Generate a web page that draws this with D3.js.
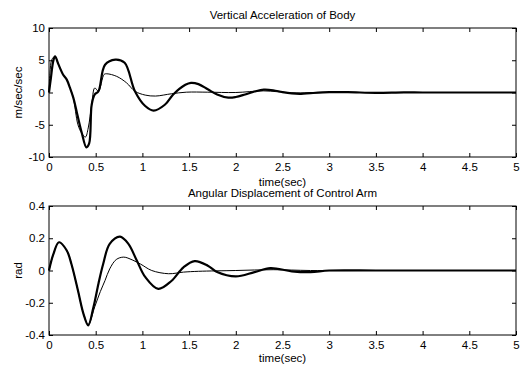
<!DOCTYPE html>
<html><head><meta charset="utf-8">
<script src="https://cdn.jsdelivr.net/npm/d3@7"></script>
<style>
html,body{margin:0;padding:0;background:#fff;}
svg{display:block;font-family:"Liberation Sans",Arial,sans-serif;}
</style></head>
<body><svg id="c" width="530" height="365"></svg>
<script>
// ---- data ----
const xTicks = [0,0.5,1,1.5,2,2.5,3,3.5,4,4.5,5];
const accTicks = [-10,-5,0,5,10];
const angTicks = [-0.4,-0.2,0,0.2,0.4];

const accThickT = [0,0.02,0.046,0.065,0.1,0.15,0.19,0.225,0.26,0.3,0.35,0.4,0.43,0.457,0.49,0.53,0.6,0.71,0.81,0.92,1.03,1.12,1.24,1.33,1.46,1.52,1.6,1.7,1.8,1.92,2.0,2.1,2.2,2.3,2.4,2.5,2.6,2.7,2.8,3.0,3.2,3.5,3.8,4.0,4.5,5.0];
const accThickV = [0,2.2,4.9,5.6,4.4,2.8,2.0,0.7,-0.8,-3.2,-6.2,-8.5,-7.9,-1.9,-0.3,0.2,4.3,5.1,4.6,0.2,-2.1,-2.8,-1.9,-0.3,1.2,1.5,1.3,0.5,-0.3,-0.8,-0.7,-0.3,0.15,0.45,0.35,0.05,-0.15,-0.2,-0.1,0.05,0.05,-0.05,0.02,0,0,0];

const accThinT = [0,0.01,0.03,0.064,0.1,0.15,0.19,0.225,0.26,0.31,0.35,0.39,0.42,0.457,0.49,0.53,0.59,0.62,0.725,0.83,0.92,1.03,1.14,1.31,1.47,1.7,2.0,2.3,2.6,3.0,4.0,5.0];
const accThinV = [0,3.0,5.1,5.6,4.4,2.8,2.0,0.7,-0.8,-5.0,-6.3,-6.9,-5.5,-1.9,0.7,0.2,2.8,2.9,2.5,1.5,0.2,-0.4,-0.55,-0.2,0.05,0.05,0.0,0.25,-0.05,0,0,0];

const angThickT = [0,0.046,0.107,0.19,0.24,0.31,0.37,0.42,0.475,0.53,0.58,0.65,0.76,0.85,0.94,1.03,1.17,1.31,1.44,1.56,1.7,1.8,2.0,2.2,2.37,2.6,2.8,3.0,3.5,4.0,5.0];
const angThickV = [0,0.10,0.175,0.124,0.04,-0.124,-0.27,-0.34,-0.23,-0.08,0.04,0.165,0.21,0.165,0.062,-0.04,-0.114,-0.065,0.02,0.058,0.03,-0.01,-0.037,-0.01,0.015,-0.005,-0.01,0,0,0,0];

const angThinT = [0,0.046,0.107,0.19,0.24,0.31,0.37,0.42,0.49,0.55,0.6,0.65,0.72,0.8,0.89,0.98,1.1,1.28,1.44,1.6,2.0,2.4,2.8,3.5,5.0];
const angThinV = [0,0.10,0.175,0.124,0.04,-0.124,-0.27,-0.335,-0.225,-0.13,-0.062,0.01,0.068,0.083,0.066,0.04,0,-0.02,-0.01,-0.005,0,0.005,0,0,0];

// ---- layout ----
const svg = d3.select("#c");
svg.append("rect").attr("width",530).attr("height",365).attr("fill","#fff");
const X0 = 49, X1 = 516;
const FS = 11.5;
const x = d3.scaleLinear().domain([0,5]).range([X0,X1]);
const fmtX = d => String(d);

function panel(top, bottom, yDomain, yTicks, title, ylabel, thickT, thickV, thinT, thinV, titleY, xlabY){
  const y = d3.scaleLinear().domain(yDomain).range([bottom, top]);
  const g = svg.append("g");
  g.append("g").attr("transform",`translate(0,${bottom})`)
    .call(d3.axisBottom(x).tickValues(xTicks).tickSize(-4).tickPadding(6).tickFormat(fmtX));
  g.append("g").attr("transform",`translate(0,${top})`)
    .call(d3.axisTop(x).tickValues(xTicks).tickSize(-4).tickFormat(""));
  g.append("g").attr("transform",`translate(${X0},0)`)
    .call(d3.axisLeft(y).tickValues(yTicks).tickSize(-4).tickPadding(4).tickFormat(d=>String(d)));
  g.append("g").attr("transform",`translate(${X1},0)`)
    .call(d3.axisRight(y).tickValues(yTicks).tickSize(-4).tickFormat(""));
  g.selectAll(".domain").remove();
  g.selectAll(".tick line").attr("stroke","#000");
  g.selectAll(".tick text").attr("fill","#000").attr("font-size",FS);
  g.append("rect").attr("x",X0).attr("y",top).attr("width",X1-X0).attr("height",bottom-top)
    .attr("fill","none").attr("stroke","#000").attr("stroke-width",1);
  const line = d3.line().x(d=>x(d[0])).y(d=>y(d[1])).curve(d3.curveCatmullRom.alpha(0.5));
  g.append("path").datum(thinT.map((t,i)=>[t,thinV[i]])).attr("d",line)
    .attr("fill","none").attr("stroke","#000").attr("stroke-width",1);
  g.append("path").datum(thickT.map((t,i)=>[t,thickV[i]])).attr("d",line)
    .attr("fill","none").attr("stroke","#000").attr("stroke-width",2.2);
  g.append("text").attr("x",(X0+X1)/2).attr("y",titleY).attr("text-anchor","middle")
    .attr("font-size",FS).text(title);
  g.append("text").attr("x",(X0+X1)/2).attr("y",xlabY).attr("text-anchor","middle")
    .attr("font-size",FS).text("time(sec)");
  g.append("text").attr("transform",`translate(22,${(top+bottom)/2}) rotate(-90)`)
    .attr("text-anchor","middle").attr("font-size",FS).text(ylabel);
}

panel(28,157,[-10,10],accTicks,"Vertical Acceleration of Body","m/sec/sec",
      accThickT,accThickV,accThinT,accThinV,19,186);
panel(206,335,[-0.4,0.4],angTicks,"Angular Displacement of Control Arm","rad",
      angThickT,angThickV,angThinT,angThinV,197,362);
</script></body></html>
